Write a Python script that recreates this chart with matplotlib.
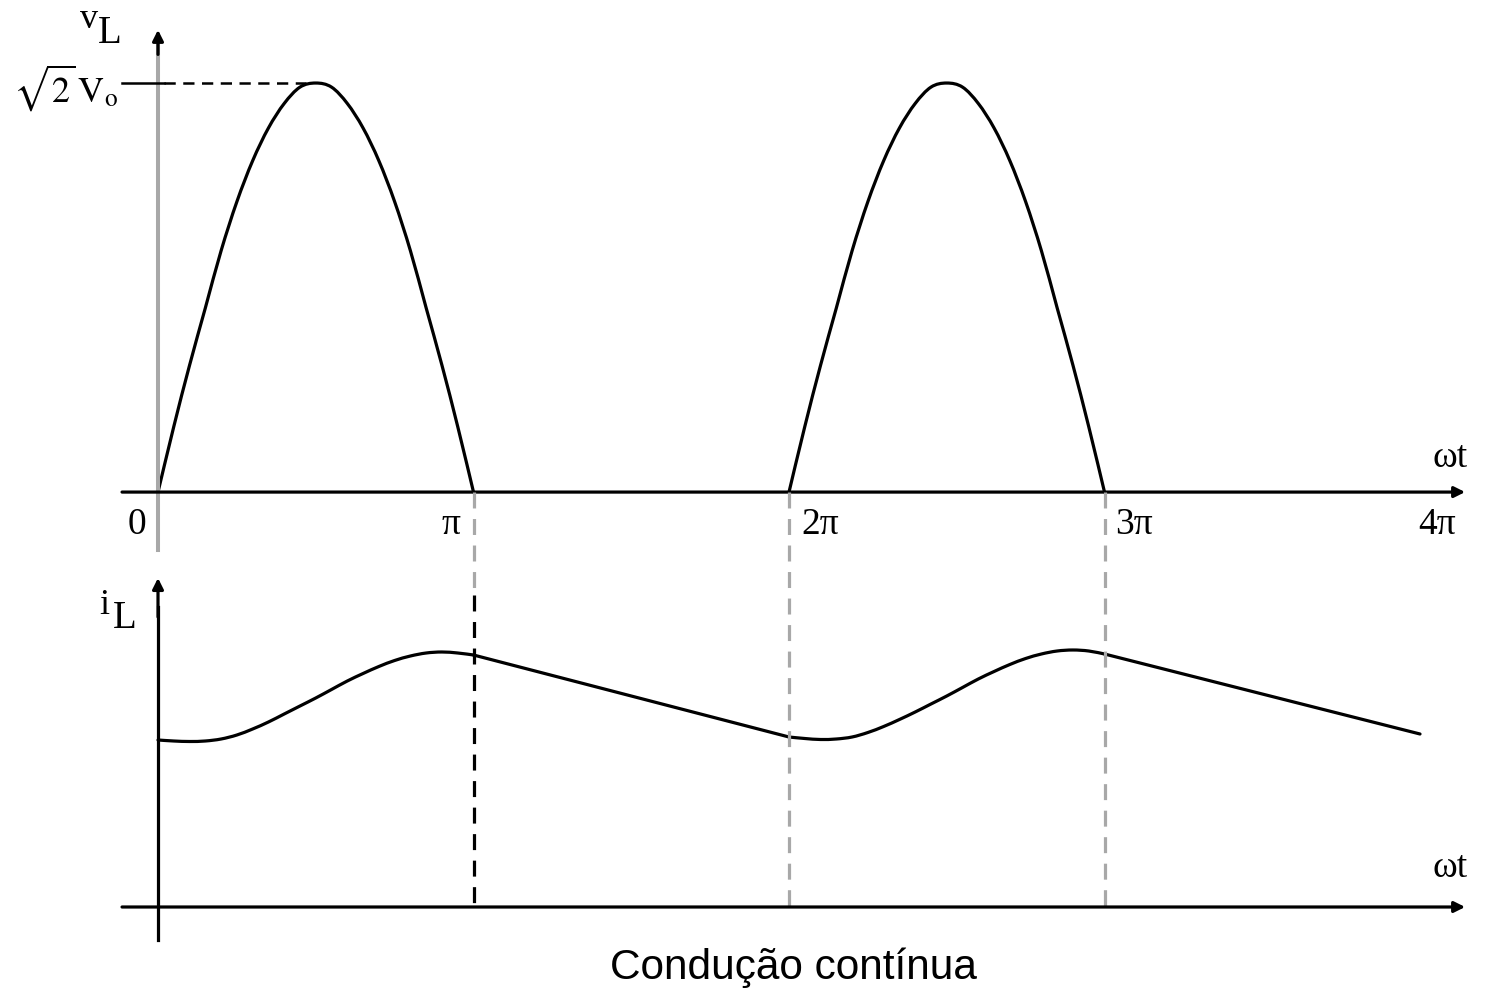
import matplotlib
matplotlib.use("Agg")
import matplotlib.pyplot as plt
import numpy as np
from matplotlib.path import Path
from matplotlib.patches import PathPatch

# angle grid over one conduction interval, in multiples of pi
theta = [0.00, 0.05, 0.10, 0.15, 0.20, 0.25, 0.30, 0.35, 0.40, 0.45, 0.50,
         0.55, 0.60, 0.65, 0.70, 0.75, 0.80, 0.85, 0.90, 0.95, 1.00]
cond_start = [0.0, 2.0]          # diode conducts from 0 and from 2*pi
t_end = 4.0                      # end of the plotted range (4*pi)

# load voltage, normalised to sqrt(2)*Vo
vl_hump = [0.00, 0.16, 0.31, 0.45, 0.59, 0.71, 0.81, 0.89, 0.95, 0.99, 1.00,
           0.99, 0.95, 0.89, 0.81, 0.71, 0.59, 0.45, 0.31, 0.16, 0.00]

# load current, arbitrary units
il_cond1 = [167, 166, 165.5, 166, 168, 172, 178, 185, 193, 201, 209,
            217.5, 226, 233.5, 240.5, 246.5, 251, 254, 255, 254, 252]
il_cond2 = [170, 168.5, 167.5, 168, 170, 174.5, 180.5, 187.5, 195, 203, 211,
            219.5, 228, 235.5, 242.5, 248.5, 253, 256, 257, 256, 253]
il_end = 173

tick_pos = [0, 1, 2, 3, 4]
tick_txt = ["0", "π", "2π", "3π", "4π"]
tick_dx = [-0.067, -0.071, 0.098, 0.094, 0.054]

SERIF = "Liberation Serif"
plt.rcParams["mathtext.fontset"] = "stix"


def smooth(ax, x, y, **kw):
    """Draw a curve through the points as Catmull-Rom cubic Beziers."""
    p = np.column_stack([x, y]).astype(float)
    ext = np.vstack([p[0], p, p[-1]])
    verts = [p[0]]
    codes = [Path.MOVETO]
    for i in range(len(p) - 1):
        a, b, c, d = ext[i], ext[i + 1], ext[i + 2], ext[i + 3]
        verts += [b + (c - a) / 6, c - (d - b) / 6, c]
        codes += [Path.CURVE4] * 3
    ax.add_patch(PathPatch(Path(verts, codes), fill=False, **kw))


fig = plt.figure(figsize=(14.85, 9.96), dpi=100)
ax_v = fig.add_axes([0, 0, 1, 1])
ax_i = fig.add_axes([0, 0, 1, 1])
for ax in (ax_v, ax_i):
    ax.set_xlim(-0.5008, 4.206)
    ax.axis("off")
    ax.patch.set_alpha(0)
ax_v.set_ylim(-1.232, 1.203)
ax_i.set_ylim(-89, 907)

LW = 2.3
DASH = (5, 3.3)
line = dict(color="black", lw=LW, capstyle="round", joinstyle="round")
arrow = dict(arrowstyle="-|>", lw=LW, color="black", mutation_scale=16,
             shrinkA=0, shrinkB=0)
th = np.array(theta)

# ---- top panel: v_L ----
for s in cond_start:
    smooth(ax_v, th + s, vl_hump, **line)

ax_v.annotate("", xy=(4.143, 0), xytext=(-0.114, 0), arrowprops=arrow)
ax_v.plot([0, 0], [-0.142, 1.09], color="#a8a8a8", lw=LW + 0.6)
ax_v.annotate("", xy=(0, 1.13), xytext=(0, 1.07), arrowprops=arrow)

peak = max(vl_hump)
ax_v.plot([-0.114, 0.02], [peak, peak], color="black", lw=1.8)
ax_v.plot([0.02, 0.47], [peak, peak], color="black", lw=1.8,
          dashes=(4.5, 3))

ax_v.text(-0.125, 0.99, r"$\sqrt{2}\,\mathrm{V}_{\mathrm{o}}$", fontsize=26,
          ha="right", va="center")
ax_v.text(-0.22, 1.155, "v", family=SERIF, fontsize=26, ha="center", va="center")
ax_v.text(-0.152, 1.12, "L", family=SERIF, fontsize=28, ha="center", va="center")

for p, s, dx in zip(tick_pos, tick_txt, tick_dx):
    ax_v.text(p + dx, -0.081, s, family=SERIF, fontsize=27,
              ha="center", va="center")
ax_v.text(4.095, 0.083, "ωt", family=SERIF, fontsize=27, ha="center", va="center")

# ---- bottom panel: i_L ----
smooth(ax_i, th + cond_start[0], il_cond1, **line)
smooth(ax_i, th + cond_start[1], il_cond2, **line)
ax_i.plot([cond_start[0] + 1, cond_start[1]], [il_cond1[-1], il_cond2[0]],
          color="black", lw=LW, solid_capstyle="round")
ax_i.plot([cond_start[1] + 1, t_end], [il_cond2[-1], il_end],
          color="black", lw=LW, solid_capstyle="round")

ax_i.annotate("", xy=(4.143, 0), xytext=(-0.114, 0), arrowprops=arrow)
ax_i.plot([0, 0], [-33, 300], color="black", lw=LW)
ax_i.annotate("", xy=(0, 329), xytext=(0, 290), arrowprops=arrow)

ax_i.text(-0.171, 302, "i", family=SERIF, fontsize=26, ha="center", va="center")
ax_i.text(-0.105, 289, "L", family=SERIF, fontsize=28, ha="center", va="center")
ax_i.text(4.095, 39, "ωt", family=SERIF, fontsize=27, ha="center", va="center")

# ---- dashed guides linking the two panels ----
fig.canvas.draw()
top_base = ax_i.transData.inverted().transform(ax_v.transData.transform((0, 0)))[1]
for p in [1, 2, 3]:
    if p == 1:
        split = top_base - 103
        ax_i.plot([p, p], [top_base, split], color="#a8a8a8", lw=LW, dashes=DASH)
        ax_i.plot([p, p], [split, 0], color="black", lw=LW, dashes=DASH)
    else:
        ax_i.plot([p, p], [top_base, 0], color="#a8a8a8", lw=LW, dashes=DASH)

ax_i.text(2.015, -61, "Condução contínua", family="Liberation Sans",
          fontsize=30.5, ha="center", va="center")

fig.savefig("out.png", dpi=100)
